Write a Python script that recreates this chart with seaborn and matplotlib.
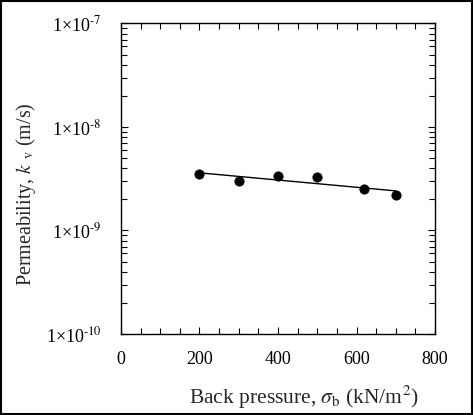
import numpy as np
import pandas as pd
import seaborn as sns
import matplotlib
matplotlib.use("Agg")
import matplotlib.pyplot as plt
from matplotlib.ticker import FuncFormatter, MultipleLocator, LogLocator
from matplotlib.patches import Rectangle

# data
back_pressure = [200, 300, 400, 500, 620, 700]
permeability = [3.49e-9, 3.0e-9, 3.38e-9, 3.31e-9, 2.52e-9, 2.20e-9]

df = pd.DataFrame({"sigma_b": back_pressure, "k_v": permeability})

# log-linear fit for the trend line
coef = np.polyfit(df["sigma_b"], np.log10(df["k_v"]), 1)
fit = pd.DataFrame({"sigma_b": [min(back_pressure), max(back_pressure)]})
fit["k_v"] = 10 ** np.polyval(coef, fit["sigma_b"])

sns.set_style("ticks")
plt.rcParams["font.family"] = ["Liberation Serif", "DejaVu Serif"]
plt.rcParams["mathtext.fontset"] = "stix"

fig = plt.figure(figsize=(4.73, 4.15), dpi=100)
ax = fig.add_axes([0.2558, 0.1952, 0.6639, 0.7482])

sns.lineplot(data=fit, x="sigma_b", y="k_v", color="black", linewidth=1, ax=ax)
sns.scatterplot(data=df, x="sigma_b", y="k_v", color="black", s=45,
                edgecolor="black", zorder=3, ax=ax)

ax.set_yscale("log")
ax.set_xlim(0, 800)
ax.set_ylim(1e-10, 1e-7)
ax.xaxis.set_major_locator(MultipleLocator(200))
ax.xaxis.set_minor_locator(MultipleLocator(50))
ax.yaxis.set_major_locator(LogLocator(base=10, numticks=10))
ax.yaxis.set_minor_locator(LogLocator(base=10, subs=np.arange(2, 10), numticks=10))


def sci(v, pos):
    e = int(round(np.log10(v)))
    return "1\u00d710$^{\\text{-%d}}$" % (-e)


ax.yaxis.set_major_formatter(FuncFormatter(sci))
ax.tick_params(which="both", direction="in", top=True, right=True,
               labelsize=13, colors="black", width=0.8)
ax.tick_params(which="major", length=5)
ax.tick_params(axis="x", which="major", pad=12)
ax.tick_params(axis="y", which="major", pad=14)
ax.tick_params(which="minor", length=4)
for s in ax.spines.values():
    s.set_linewidth(1)
    s.set_color("black")

ax.set_xlabel(r"Back pressure, $\sigma_{\mathrm{b}}$ (kN/m$^2$)", fontsize=15.5)
ax.set_ylabel(r"Permeability, $k$ $_{\mathrm{v}}$ (m/s)", fontsize=14.5)
ax.xaxis.set_label_coords(0.581, -0.16)
ax.yaxis.set_label_coords(-0.263, 0.45)

fig.add_artist(Rectangle((0.002, 0.002), 0.996, 0.996, transform=fig.transFigure,
                         fill=False, edgecolor="black", linewidth=1.5))

fig.savefig("out.png", dpi=100)
plt.close()
